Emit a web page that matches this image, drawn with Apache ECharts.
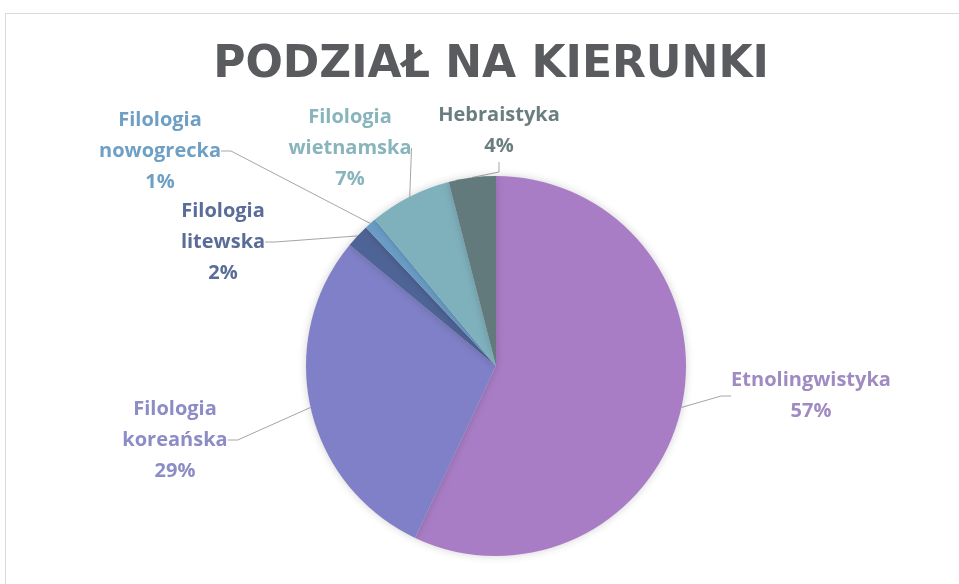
<!DOCTYPE html>
<html>
<head>
<meta charset="utf-8">
<script src="https://cdn.jsdelivr.net/npm/echarts@6/dist/echarts.min.js"></script>
<style>
  html, body { margin: 0; padding: 0; background: #fff; }
  #chart { width: 959px; height: 584px; }
</style>
</head>
<body>
<div id="chart"></div>
<script>
// dane (procenty z wykresu)
var kierunki = [
  "Etnolingwistyka",
  "Filologia\nkoreańska",
  "Filologia\nlitewska",
  "Filologia\nnowogrecka",
  "Filologia\nwietnamska",
  "Hebraistyka"
];
var udzialy = [57, 29, 2, 1, 7, 4];

// kolory wycinków i etykiet
var koloryWycinkow = ["#a97dc5", "#8080c8", "#4f6496", "#6a9dc6", "#7fb1bd", "#627a7b"];
var koloryEtykiet = ["#a08ac2", "#8c8cc6", "#5a6d99", "#6ea0c6", "#88b4bc", "#6a7e80"];

// środki etykiet [x, y]
var pozycjeEtykiet = [[811, 396], [175, 440], [223, 242], [160, 151], [350, 148], [499, 131]];

var chart = echarts.init(document.getElementById("chart"));

var dane = kierunki.map(function (k, i) {
  return {
    name: k,
    value: udzialy[i],
    itemStyle: { color: koloryWycinkow[i] },
    label: { color: koloryEtykiet[i] }
  };
});

var option = {
  backgroundColor: "#fff",
  animation: false,
  graphic: [
    {
      type: "rect",
      z: -10,
      shape: { x: 5.5, y: 13.5, width: 1000, height: 700 },
      style: { fill: "#fff", stroke: "#d9d9d9", lineWidth: 1 }
    }
  ],
  title: {
    text: "PODZIAŁ NA KIERUNKI",
    left: 486,
    top: 39,
    textAlign: "center",
    textStyle: {
      fontFamily: "DejaVu Sans",
      fontWeight: "bold",
      fontSize: 44,
      color: "#595b5f"
    }
  },
  series: [
    {
      type: "pie",
      center: [496, 366],
      radius: [0, 190],
      startAngle: 90,
      clockwise: true,
      avoidLabelOverlap: false,
      data: dane,
      itemStyle: {
        borderWidth: 0,
        shadowBlur: 8,
        shadowColor: "rgba(0,0,0,0.18)"
      },
      label: {
        show: true,
        formatter: function (p) {
          return p.name + "\n" + Math.round(p.percent) + "%";
        },
        fontFamily: "Open Sans",
        fontWeight: "bold",
        fontSize: 20,
        lineHeight: 31,
        align: "center"
      },
      labelLine: {
        show: true,
        length: 10,
        length2: 10,
        lineStyle: { color: "#a6a6a6", width: 1 }
      },
      labelLayout: function (p) {
        var pos = pozycjeEtykiet[p.dataIndex];
        return {
          x: pos[0],
          y: pos[1],
          align: "center",
          verticalAlign: "middle"
        };
      }
    }
  ]
};

chart.setOption(option);
</script>
</body>
</html>
